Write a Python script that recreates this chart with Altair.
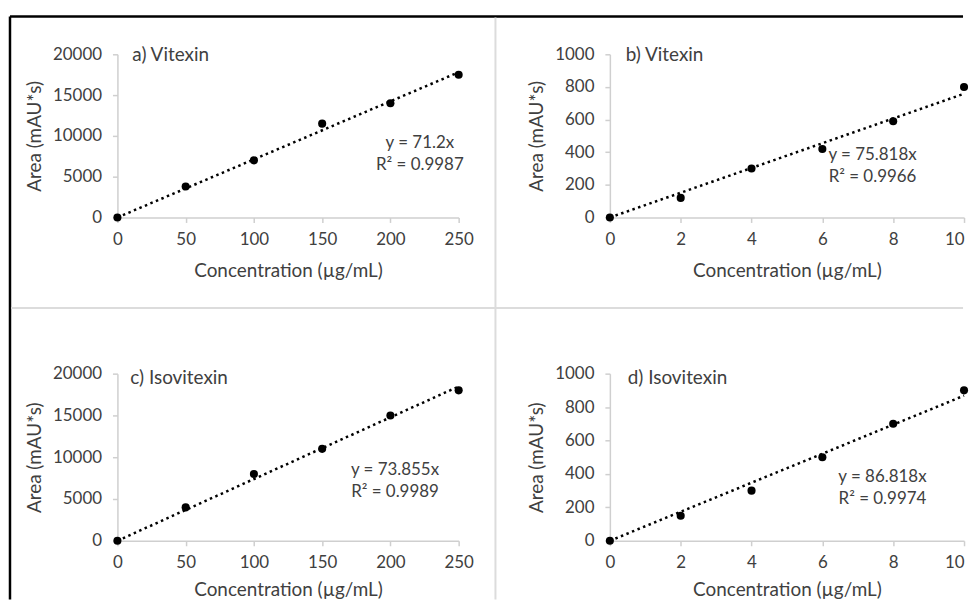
import altair as alt
import pandas as pd

# ---- data ----
conc_high = [0, 50, 100, 150, 200, 250]
conc_low = [0, 2, 4, 6, 8, 10]
area_a = [0, 3800, 7000, 11500, 14000, 17500]
area_b = [0, 120, 300, 420, 590, 800]
area_c = [0, 4000, 8000, 11000, 15000, 18000]
area_d = [0, 150, 300, 500, 700, 900]
slopes = [71.2, 75.818, 73.855, 86.818]
r2_vals = ["0.9987", "0.9966", "0.9989", "0.9974"]
panel_titles = ["a) Vitexin", "b) Vitexin", "c) Isovitexin", "d) Isovitexin"]
y_max = [20000, 1000, 20000, 1000]
y_step = [5000, 200, 5000, 200]
x_max = [250, 10, 250, 10]
x_step = [50, 2, 50, 2]
x_title = "Concentration (µg/mL)"
y_title = "Area (mAU*s)"

FONT = "Lato"
TXT = "#404040"
FS_LAB = 17
FS_TTL = 19
FS_PANEL = 19
FS_EQ = 17


def text_layer(txt, x, y, align, size):
    return alt.Chart(alt.Data(values=[{"t": txt}])).mark_text(
        align=align, baseline="middle", font=FONT, fontSize=size, color=TXT
    ).encode(text="t:N", x=alt.value(x), y=alt.value(y))


def rule(x, x2, y, y2, color, width):
    return alt.Chart(alt.Data(values=[{"k": 1}])).mark_rule(
        color=color, strokeWidth=width
    ).encode(x=alt.value(x), x2=alt.value(x2), y=alt.value(y), y2=alt.value(y2))


def panel(i, xs, ys, tpos, epos, xtitle_pad):
    df = pd.DataFrame({"x": xs, "y": ys})
    ln = pd.DataFrame({"x": [0, x_max[i]], "y": [0, slopes[i] * x_max[i]]})
    xvals = list(range(0, x_max[i] + 1, x_step[i]))
    yvals = list(range(0, y_max[i] + 1, y_step[i]))
    last = x_max[i]
    X = alt.X(
        "x:Q",
        scale=alt.Scale(domain=[0, x_max[i]], nice=False),
        axis=alt.Axis(
            values=xvals, format="d", title=x_title, labelFlush=False,
            titlePadding=xtitle_pad,
            labelAlign={"condition": {"test": f"datum.value == {last} && {last} == 10", "value": "right"}, "value": "center"},
        ),
    )
    Y = alt.Y(
        "y:Q",
        scale=alt.Scale(domain=[0, y_max[i]], nice=False),
        axis=alt.Axis(values=yvals, format="d", title=y_title),
    )
    line = alt.Chart(ln).mark_line(
        color="black", strokeDash=[2.5, 3.5], strokeWidth=2.5
    ).encode(x=X, y=Y)
    pts = alt.Chart(df).mark_circle(size=66, color="black", opacity=1).encode(x=X, y=Y)
    layers = [
        line,
        pts,
        text_layer(panel_titles[i], tpos[0], tpos[1], "left", FS_PANEL),
        text_layer(f"y = {slopes[i]}x", epos[0], epos[1], "center", FS_EQ),
        text_layer(f"R² = {r2_vals[i]}", epos[0], epos[1] + 22, "center", FS_EQ),
    ]
    return layers


W_L, W_R = 343, 356
H_T, H_B = 164, 168

# frame lines (drawn within panel a's coordinate frame)
frame = [
    rule(-108, 850, -38, -38, "black", 2.5),
    rule(-108, -108, -38, 548, "black", 2.5),
    rule(380, 380, -37, 548, "#dcdcdc", 2),
    rule(-107, 850, 255, 255, "#dcdcdc", 2),
]

pa = alt.layer(*(panel(0, conc_high, area_a, (15, 1), (304, 89), 14) + frame)).properties(width=W_L, height=H_T)
pb = alt.layer(*panel(1, conc_low, area_b, (16, 1), (264, 101), 14)).properties(width=W_R, height=H_T)
pc = alt.layer(*panel(2, conc_high, area_c, (13, 4), (279, 97), 10)).properties(width=W_L, height=H_B)
pd_ = alt.layer(*panel(3, conc_low, area_d, (18, 4), (274, 104), 10)).properties(width=W_R, height=H_B)

chart = alt.concat(
    pa, pb, pc, pd_, columns=2, spacing={"row": 157, "column": 152}, bounds="flush"
).properties(
    padding={"top": 5, "left": 0, "right": 0, "bottom": 0}
).configure_view(stroke=None).configure_axis(
    grid=False,
    domainColor="#cfcfcf",
    domainWidth=1.5,
    tickColor="#cfcfcf",
    tickWidth=1.5,
    tickSize=5,
    labelColor=TXT,
    titleColor=TXT,
    labelFont=FONT,
    titleFont=FONT,
    labelFontSize=FS_LAB,
    titleFontSize=FS_TTL,
    titleFontWeight="normal",
).configure_axisX(labelPadding=9).configure_axisY(labelPadding=11, titlePadding=8)

chart.save("out.html", embed_options={"renderer": "svg", "actions": False})
